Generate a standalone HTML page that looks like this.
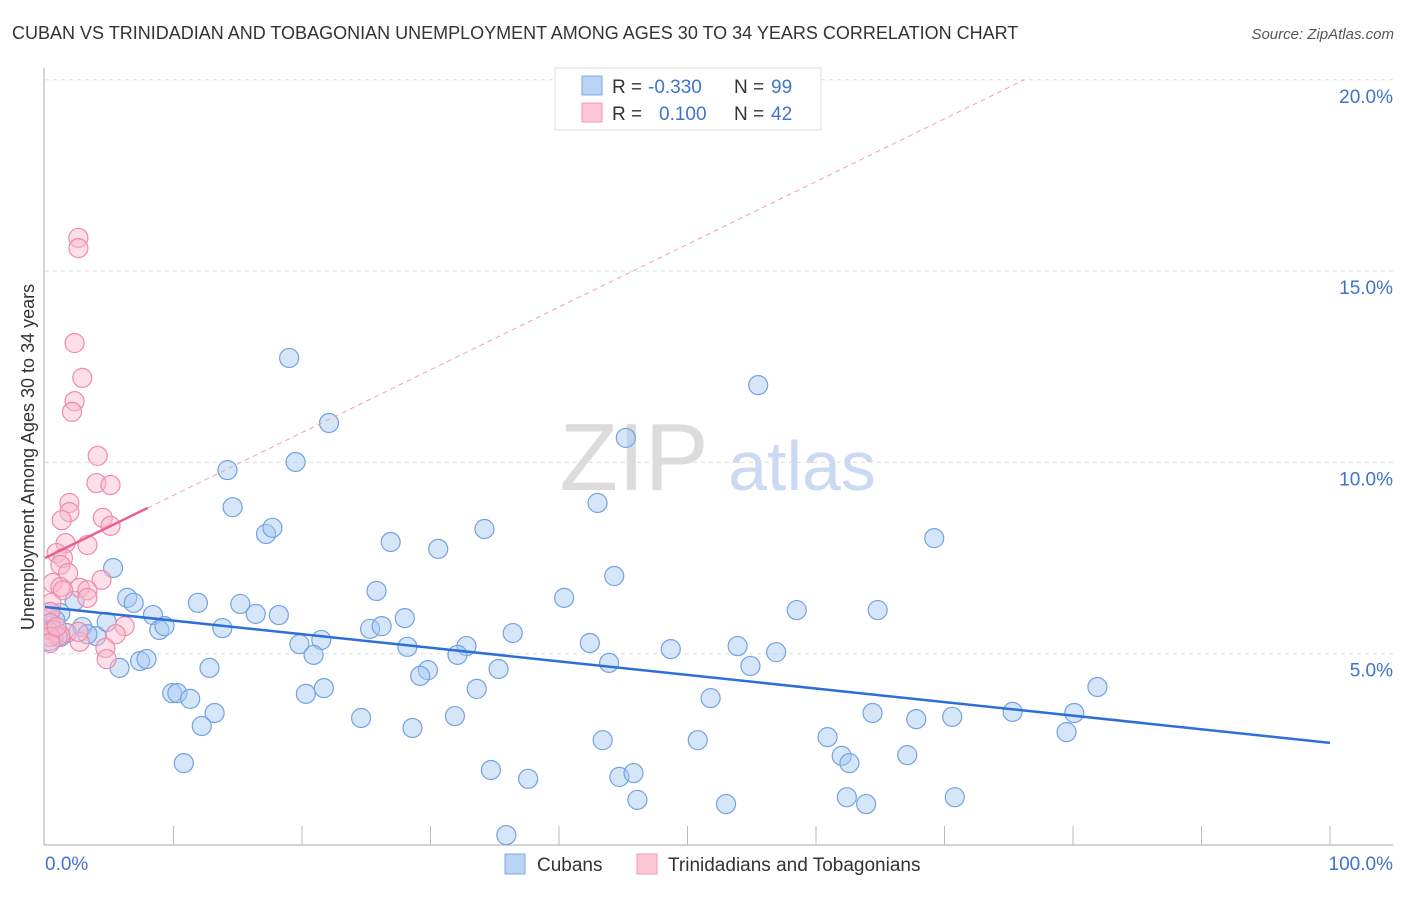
<!DOCTYPE html>
<html><head><meta charset="utf-8"><style>
body{margin:0;background:#fff;font-family:"Liberation Sans",sans-serif;}
svg text{font-family:"Liberation Sans",sans-serif;}
</style></head><body>
<svg id="chart" width="1406" height="892" xmlns="http://www.w3.org/2000/svg">
<text x="12" y="39" font-size="18" fill="#333">CUBAN VS TRINIDADIAN AND TOBAGONIAN UNEMPLOYMENT AMONG AGES 30 TO 34 YEARS CORRELATION CHART</text>
<text x="1394" y="39" font-size="15" fill="#555" font-style="italic" text-anchor="end">Source: ZipAtlas.com</text>
<g>
<text x="634" y="490" font-size="96" fill="#dcdcdc" font-family="Liberation Serif, serif" text-anchor="middle">ZIP</text>
<text x="802" y="490" font-size="70" fill="#c9daf2" text-anchor="middle">atlas</text>
</g>
<g id="grid"></g>
<g id="axes"></g>
<g id="marks"></g>
<text transform="translate(34,457) rotate(-90)" font-size="18" fill="#333" text-anchor="middle">Unemployment Among Ages 30 to 34 years</text>
<g>
<rect x="555" y="68" width="266" height="62" fill="#fff" stroke="#ddd"/>
<rect x="582" y="76" width="20" height="19" fill="#b9d3f5" stroke="#7fa9e3"/>
<rect x="582" y="103" width="20" height="19" fill="#fcc6d5" stroke="#f19ab4"/>
<text x="612" y="93" font-size="19" fill="#333">R =</text>
<text x="648" y="93" font-size="19" fill="#3f73cc">-0.330</text>
<text x="734" y="93" font-size="19" fill="#333">N =</text>
<text x="771" y="93" font-size="19" fill="#3f73cc">99</text>
<text x="612" y="120" font-size="19" fill="#333">R =</text>
<text x="659" y="120" font-size="19" fill="#3f73cc">0.100</text>
<text x="734" y="120" font-size="19" fill="#333">N =</text>
<text x="771" y="120" font-size="19" fill="#3f73cc">42</text>
</g>
<g>
<rect x="505" y="854" width="20" height="20" fill="#b9d3f5" stroke="#7fa9e3"/>
<text x="537" y="871" font-size="19" fill="#333">Cubans</text>
<rect x="637" y="854" width="20" height="20" fill="#fcc6d5" stroke="#f19ab4"/>
<text x="668" y="871" font-size="19" fill="#333">Trinidadians and Tobagonians</text>
</g>
</svg>
<script>
const yTicks=[5,10,15,20];
const yTickLabels=["5.0%","10.0%","15.0%","20.0%"];
const xTickLabels=["0.0%","100.0%"];
const cubanX=[19.0,55.5,22.1,45.2,19.5,14.2,14.6,43.0,17.2,17.7,34.2,26.9,30.6,69.2,5.3,44.3,25.8,40.4,6.4,6.9,11.9,15.2,8.4,16.4,18.2,28.0,58.5,64.8,1.2,2.3,8.9,9.3,13.8,25.3,26.2,36.4,21.5,19.8,20.9,28.2,32.8,32.1,42.4,48.7,53.9,56.9,43.9,54.9,35.3,29.8,29.2,5.8,7.4,7.9,12.8,9.9,10.3,11.3,20.3,21.7,33.6,51.8,81.9,13.2,12.2,24.6,31.9,64.4,67.8,70.6,75.3,80.1,28.6,43.4,50.8,60.9,79.5,62.0,62.6,67.1,10.8,34.7,37.6,44.7,45.8,46.1,53.0,62.4,63.9,70.8,35.9,2.9,4.0,3.3,4.8,0.8,0.4,0.2,1.2,1.7,0.3];
const cubanY=[12.73,12.02,11.03,10.64,10.01,9.80,8.83,8.94,8.13,8.29,8.26,7.92,7.74,8.02,7.24,7.03,6.64,6.46,6.46,6.33,6.33,6.30,6.01,6.04,6.01,5.93,6.14,6.14,6.06,6.38,5.62,5.72,5.67,5.65,5.72,5.54,5.36,5.25,4.97,5.18,5.20,4.97,5.28,5.12,5.20,5.04,4.76,4.68,4.60,4.57,4.42,4.63,4.81,4.86,4.63,3.97,3.97,3.82,3.95,4.10,4.08,3.84,4.13,3.45,3.11,3.32,3.37,3.45,3.29,3.35,3.48,3.45,3.06,2.74,2.74,2.82,2.95,2.33,2.14,2.35,2.14,1.96,1.73,1.78,1.88,1.18,1.07,1.25,1.07,1.25,0.26,5.70,5.46,5.51,5.83,5.88,6.09,5.62,5.44,5.54,5.45];
const trinX=[2.6,2.6,2.3,2.9,2.3,2.1,4.1,4.0,5.1,1.9,1.9,1.3,4.5,5.1,1.6,3.3,0.9,1.4,1.2,1.8,4.4,0.6,1.2,2.7,3.3,1.4,3.3,0.5,0.4,0.4,0.6,6.2,5.5,1.2,2.7,1.0,4.7,4.8,0.4,2.6,0.4,0.9];
const trinY=[15.87,15.60,13.12,12.21,11.60,11.32,10.17,9.46,9.41,8.94,8.70,8.49,8.55,8.34,7.89,7.84,7.63,7.50,7.32,7.11,6.93,6.85,6.74,6.72,6.66,6.66,6.46,6.33,6.09,5.80,5.62,5.72,5.51,5.49,5.31,5.44,5.15,4.86,5.44,5.57,5.28,5.70];
const cubanFit=[6.22,-0.0355];
const trinFit=[7.5,0.164];

const NS="http://www.w3.org/2000/svg";
const X0=45,X1=1330,Y0=845,PX=(X1-X0)/100,PY=38.26;
const sx=v=>X0+v*PX, sy=v=>Y0-v*PY;
function mk(tag,attrs,parent){const e=document.createElementNS(NS,tag);for(const k in attrs)e.setAttribute(k,attrs[k]);parent.appendChild(e);return e;}
const grid=document.getElementById('grid'),axes=document.getElementById('axes'),marks=document.getElementById('marks');
yTicks.forEach((t,i)=>{
  const l=mk('line',{x1:45,x2:1393,y1:sy(t),y2:sy(t),stroke:'#ddd','stroke-dasharray':'4,4'},grid);
  
  
  const tx=mk('text',{x:1393,y:sy(t)+23,'font-size':19,fill:'#3f73cc','text-anchor':'end'},axes);
  tx.textContent=yTickLabels[i];
  
  
});
const ya=mk('line',{x1:44,x2:44,y1:68,y2:Y0,stroke:'#aaa'},axes);


const xa=mk('line',{x1:44,x2:1393,y1:Y0,y2:Y0,stroke:'#aaa'},axes);


for(let i=1;i<=10;i++){
  const t=mk('line',{x1:sx(i*10),x2:sx(i*10),y1:826,y2:Y0,stroke:'#bbb'},axes);
  
  
}
const xl0=mk('text',{x:45,y:870,'font-size':19,fill:'#3f73cc'},axes);xl0.textContent=xTickLabels[0];


const xl1=mk('text',{x:1393,y:870,'font-size':19,fill:'#3f73cc','text-anchor':'end'},axes);xl1.textContent=xTickLabels[1];


const cp=mk('clipPath',{id:'pc'},marks);
mk('rect',{x:44,y:60,width:1360,height:785},cp);
const pts=mk('g',{'clip-path':'url(#pc)'},marks);
cubanX.forEach((x,i)=>{
  const c=mk('circle',{cx:sx(x),cy:sy(cubanY[i]),r:i===cubanX.length-1?14:9.5,fill:'rgba(165,199,242,0.45)',stroke:'#74a2e0','stroke-width':1.2},pts);
  
  
});
trinX.forEach((x,i)=>{
  const c=mk('circle',{cx:sx(x),cy:sy(trinY[i]),r:9.5,fill:'rgba(248,184,204,0.45)',stroke:'#f08aa8','stroke-width':1.2},pts);
  
  
});
const bl=mk('line',{x1:sx(0),y1:sy(cubanFit[0]),x2:sx(100),y2:sy(cubanFit[0]+cubanFit[1]*100),stroke:'#2d6fd6','stroke-width':2.5},marks);


const xe=(20-trinFit[0])/trinFit[1];
const pd=mk('line',{x1:sx(8),y1:sy(trinFit[0]+trinFit[1]*8),x2:sx(xe),y2:sy(20),stroke:'#eea0b8','stroke-width':1,'stroke-dasharray':'5,4'},marks);


const pl=mk('line',{x1:sx(0),y1:sy(trinFit[0]),x2:sx(8),y2:sy(trinFit[0]+trinFit[1]*8),stroke:'#e8628c','stroke-width':2.5},marks);


</script>
</body></html>
